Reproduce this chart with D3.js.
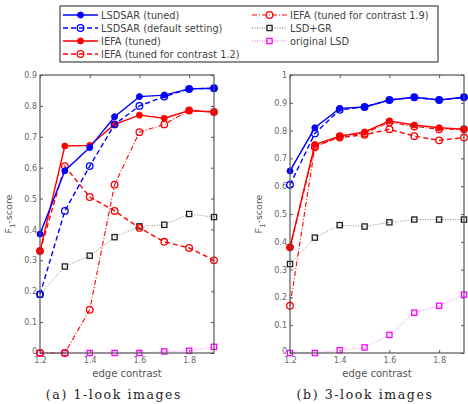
<!DOCTYPE html>
<html>
<head>
<meta charset="utf-8">
<script src="https://cdnjs.cloudflare.com/ajax/libs/d3/7.8.5/d3.min.js"></script>
<style>
  body { margin: 0; background: #fff; }
  svg { display: block; }
</style>
</head>
<body>
<script>
var contrast = [1.2, 1.3, 1.4, 1.5, 1.6, 1.7, 1.8, 1.9];

// panel (a) 1-look
var a_lsdsarTuned   = [0.385, 0.59, 0.665, 0.765, 0.83, 0.835, 0.855, 0.857];
var a_lsdsarDefault = [0.19, 0.46, 0.605, 0.74, 0.80, 0.83, 0.855, 0.857];
var a_iefaTuned     = [0.33, 0.67, 0.672, 0.74, 0.77, 0.76, 0.785, 0.78];
var a_iefa12        = [0.33, 0.605, 0.505, 0.46, 0.405, 0.36, 0.34, 0.30];
var a_iefa19        = [0, 0, 0.14, 0.545, 0.715, 0.74, 0.785, 0.78];
var a_lsdgr         = [0.19, 0.28, 0.315, 0.375, 0.41, 0.415, 0.45, 0.44];
var a_lsd           = [0, 0, 0, 0, 0, 0.005, 0.007, 0.02];

// panel (b) 3-look
var b_lsdsarTuned   = [0.655, 0.81, 0.88, 0.885, 0.91, 0.92, 0.91, 0.92];
var b_lsdsarDefault = [0.605, 0.79, 0.875, 0.885, 0.91, 0.92, 0.91, 0.92];
var b_iefaTuned     = [0.38, 0.75, 0.78, 0.795, 0.835, 0.82, 0.81, 0.805];
var b_iefa12        = [0.38, 0.745, 0.775, 0.785, 0.805, 0.78, 0.765, 0.775];
var b_iefa19        = [0.17, 0.74, 0.78, 0.79, 0.83, 0.815, 0.805, 0.805];
var b_lsdgr         = [0.32, 0.415, 0.46, 0.455, 0.47, 0.48, 0.48, 0.48];
var b_lsd           = [0, 0, 0.01, 0.02, 0.065, 0.145, 0.17, 0.21];

var seriesNames = ["LSDSAR (tuned)", "LSDSAR (default setting)", "IEFA (tuned)",
  "IEFA (tuned for contrast 1.2)", "IEFA (tuned for contrast 1.9)", "LSD+GR", "original LSD"];

var styles = [
  { color: "#0000ff", dash: null, width: 1.4, marker: "dot" },
  { color: "#0000ff", dash: "5,3", width: 1.4, marker: "ocircle" },
  { color: "#ff0000", dash: null, width: 1.4, marker: "dot" },
  { color: "#ff0000", dash: "5,3", width: 1.4, marker: "ocircle" },
  { color: "#ff0000", dash: "5,2,1,2", width: 1.1, marker: "ocircle" },
  { color: "#222222", dash: "1,1.5", width: 0.7, marker: "square" },
  { color: "#ff00ff", dash: "1,1.5", width: 0.7, marker: "square" }
];

var panels = [
  { left: 40, right: 214, top: 75, bottom: 353, ymax: 0.9, label: "(a) 1-look images", capX: 114,
    series: [a_lsdsarTuned, a_lsdsarDefault, a_iefaTuned, a_iefa12, a_iefa19, a_lsdgr, a_lsd],
    yticks: [0, 0.1, 0.2, 0.3, 0.4, 0.5, 0.6, 0.7, 0.8, 0.9] },
  { left: 290, right: 464, top: 75, bottom: 353, ymax: 1, label: "(b) 3-look images", capX: 365,
    series: [b_lsdsarTuned, b_lsdsarDefault, b_iefaTuned, b_iefa12, b_iefa19, b_lsdgr, b_lsd],
    yticks: [0, 0.1, 0.2, 0.3, 0.4, 0.5, 0.6, 0.7, 0.8, 0.9, 1] }
];
var xticks = [1.2, 1.4, 1.6, 1.8];

var svg = d3.select("body").append("svg")
  .attr("width", 468)
  .attr("height", 404);

function drawMarker(g, type, x, y, color) {
  if (type == "dot") {
    g.append("circle").attr("cx", x).attr("cy", y).attr("r", 3)
      .attr("fill", color).attr("stroke", color);
  } else if (type == "ocircle") {
    g.append("circle").attr("cx", x).attr("cy", y).attr("r", 3.3)
      .attr("fill", "none").attr("stroke", color).attr("stroke-width", 1.3);
  } else {
    g.append("rect").attr("x", x - 2.6).attr("y", y - 2.6)
      .attr("width", 5.2).attr("height", 5.2)
      .attr("fill", "none").attr("stroke", color).attr("stroke-width", 1.3);
  }
}

panels.forEach(function (p) {
  var x = d3.scaleLinear().domain([1.2, 1.9]).range([p.left, p.right]);
  var y = d3.scaleLinear().domain([0, p.ymax]).range([p.bottom, p.top]);
  var g = svg.append("g");

  // inner ticks on all four sides
  var axisCol = "#555";
  g.append("g").attr("transform", "translate(0," + p.bottom + ")")
    .call(d3.axisBottom(x).tickValues(xticks).tickSizeInner(-3).tickSizeOuter(0)
      .tickFormat(d3.format(".1f")).tickPadding(4))
    .call(function (s) {
      s.select(".domain").remove();
      s.selectAll("line").attr("stroke", axisCol);
      s.selectAll("text").attr("fill", "#666").attr("font-size", 8)
        .attr("font-family", "DejaVu Sans");
    });
  g.append("g").attr("transform", "translate(0," + p.top + ")")
    .call(d3.axisTop(x).tickValues(xticks).tickSizeInner(-3).tickSizeOuter(0).tickFormat(""))
    .call(function (s) {
      s.select(".domain").remove();
      s.selectAll("line").attr("stroke", axisCol);
    });
  g.append("g").attr("transform", "translate(" + p.left + ",0)")
    .call(d3.axisLeft(y).tickValues(p.yticks).tickSizeInner(-3).tickSizeOuter(0)
      .tickFormat(function (d) { return d == 0 ? "0" : d == 1 ? "1" : d3.format(".1f")(d); })
      .tickPadding(3))
    .call(function (s) {
      s.select(".domain").remove();
      s.selectAll("line").attr("stroke", axisCol);
      s.selectAll("text").attr("fill", "#666").attr("font-size", 8)
        .attr("font-family", "DejaVu Sans")
        .attr("dy", function (d) { return d == 0 ? "0.1em" : "0.32em"; });
    });
  g.append("g").attr("transform", "translate(" + p.right + ",0)")
    .call(d3.axisRight(y).tickValues(p.yticks).tickSizeInner(-3).tickSizeOuter(0).tickFormat(""))
    .call(function (s) {
      s.select(".domain").remove();
      s.selectAll("line").attr("stroke", axisCol);
    });

  // series
  var line = d3.line()
    .x(function (d, i) { return x(contrast[i]); })
    .y(function (d) { return y(d); });

  // draw in reverse so blue ends up on top
  for (var k = p.series.length - 1; k >= 0; k--) {
    var st = styles[k];
    var sg = g.append("g");
    sg.append("path")
      .attr("d", line(p.series[k]))
      .attr("fill", "none")
      .attr("stroke", st.color)
      .attr("stroke-width", st.width)
      .attr("stroke-dasharray", st.dash)
      .attr("opacity", k >= 5 ? 0.75 : 1);
    p.series[k].forEach(function (v, i) {
      drawMarker(sg, st.marker, x(contrast[i]), y(v), st.color);
    });
  }

  // frame
  g.append("rect")
    .attr("x", p.left).attr("y", p.top)
    .attr("width", p.right - p.left).attr("height", p.bottom - p.top)
    .attr("fill", "none").attr("stroke", "#555").attr("stroke-width", 1.2);

  // x label
  g.append("text")
    .attr("x", (p.left + p.right) / 2)
    .attr("y", p.bottom + 24)
    .attr("text-anchor", "middle")
    .attr("font-family", "DejaVu Sans")
    .attr("font-size", 10)
    .attr("fill", "#555")
    .text("edge contrast");

  // y label
  var yl = g.append("text")
    .attr("transform", "translate(" + (p.left - 28) + "," + ((p.top + p.bottom) / 2) + ") rotate(-90)")
    .attr("text-anchor", "middle")
    .attr("font-family", "DejaVu Sans")
    .attr("font-size", 9.5)
    .attr("fill", "#555");
  yl.append("tspan").text("F");
  yl.append("tspan").attr("dy", 3).attr("font-size", 7).text("1");
  yl.append("tspan").attr("dy", -3).text("-score");

  // caption
  g.append("text")
    .attr("x", p.capX)
    .attr("y", p.bottom + 46)
    .attr("text-anchor", "middle")
    .attr("font-family", "DejaVu Serif")
    .attr("font-size", 12.5)
    .attr("letter-spacing", 1.6)
    .attr("fill", "#222")
    .text(p.label);
});

// legend
var legend = svg.append("g");
legend.append("rect")
  .attr("x", 60).attr("y", 6).attr("width", 378).attr("height", 56)
  .attr("fill", "#fff").attr("stroke", "#444").attr("stroke-width", 1.2);

seriesNames.forEach(function (name, i) {
  var col = i < 4 ? 0 : 1;
  var row = i < 4 ? i : i - 4;
  var x0 = col == 0 ? 63 : 252;
  var yy = 15 + row * 13;
  var st = styles[i];
  legend.append("line")
    .attr("x1", x0).attr("x2", x0 + 35).attr("y1", yy).attr("y2", yy)
    .attr("stroke", st.color).attr("stroke-width", st.width)
    .attr("stroke-dasharray", st.dash);
  drawMarker(legend, st.marker, x0 + 17.5, yy, st.color);
  legend.append("text")
    .attr("x", x0 + 38).attr("y", yy + 3.5)
    .attr("font-family", "DejaVu Sans")
    .attr("font-size", 9.8)
    .attr("fill", "#444")
    .text(name);
});
</script>
</body>
</html>
